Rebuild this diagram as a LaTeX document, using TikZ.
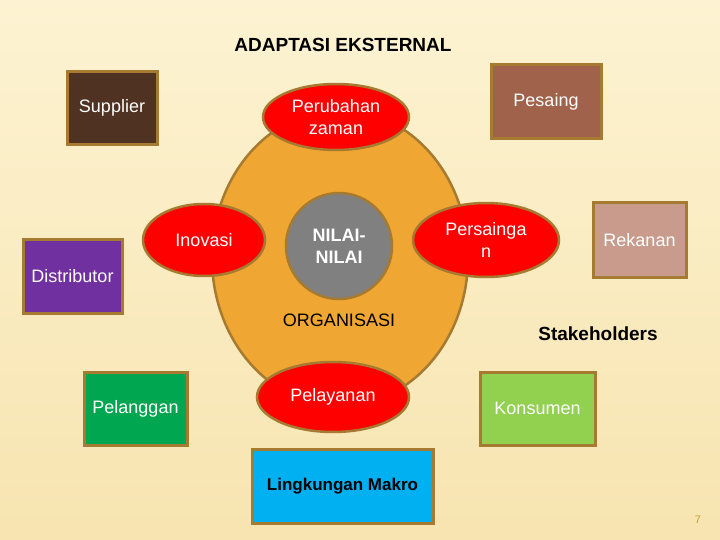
\documentclass[tikz,border=0pt]{standalone}
\usepackage{fontspec}
\setmainfont{Liberation Sans}
\usetikzlibrary{shapes.geometric}
\definecolor{bgtop}{RGB}{253,243,210}
\definecolor{bgbot}{RGB}{247,228,176}
\definecolor{bordc}{RGB}{166,122,48}
\definecolor{orgfill}{RGB}{240,166,50}
\definecolor{supc}{RGB}{79,50,34}
\definecolor{pesc}{RGB}{160,98,75}
\definecolor{disc}{RGB}{112,48,160}
\definecolor{rekc}{RGB}{200,155,140}
\definecolor{pelc}{RGB}{0,166,80}
\definecolor{konc}{RGB}{146,208,80}
\definecolor{linc}{RGB}{0,176,240}
\definecolor{grayc}{RGB}{128,128,128}
\definecolor{pagec}{RGB}{200,160,60}
\tikzset{
  boxnode/.style={draw=bordc, line width=3pt, rectangle, inner sep=0pt, text=white, font=\fontsize{18}{20}\selectfont},
  redell/.style={draw=bordc, line width=2.5pt, ellipse, fill=red, inner sep=0pt, text=white, align=center, font=\fontsize{18}{22}\selectfont},
  plain/.style={inner sep=0pt, font=\fontsize{18}{20}\selectfont},
}
\begin{document}
\begin{tikzpicture}[x=1pt,y=-1pt]
\useasboundingbox (0,0) rectangle (720,540);
\shade[top color=bgtop, bottom color=bgbot] (0,0) rectangle (720,540);
% organisation
\node[draw=bordc, line width=2.5pt, ellipse, fill=orgfill, minimum width=256pt, minimum height=296pt, inner sep=0pt] (org) at (340,258) {};
\node[draw=bordc, line width=2.5pt, circle, fill=grayc, minimum size=106pt, inner sep=0pt, text=white, align=center, font=\bfseries\fontsize{18}{22}\selectfont] (nilai) at (339,246) {NILAI-\\NILAI};
\node[plain] (orgt) at (339,320) {ORGANISASI};
% red ellipses
\node[redell, minimum width=146pt, minimum height=66pt] (perub) at (336,117) {Perubahan\\zaman};
\node[redell, minimum width=122pt, minimum height=72pt] (inov) at (204,240) {Inovasi};
\node[redell, minimum width=146pt, minimum height=74pt] (pers) at (486,240) {Persainga\\n};
\node[redell, minimum width=152pt, minimum height=70pt] (pelay) at (333,397) {Pelayanan};
% boxes
\node[boxnode, fill=supc, minimum width=90pt, minimum height=73pt] (sup) at (112,108) {Supplier};
\node[boxnode, fill=pesc, minimum width=110pt, minimum height=74pt] (pes) at (546,102) {Pesaing};
\node[boxnode, fill=disc, minimum width=99pt, minimum height=74pt] (dis) at (72.5,276) {Distributor};
\node[boxnode, fill=rekc, minimum width=93pt, minimum height=74pt] (rek) at (639.5,240) {Rekanan};
\node[boxnode, fill=pelc, minimum width=103pt, minimum height=73pt] (pel) at (135.5,408.5) {Pelanggan};
\node[boxnode, fill=konc, minimum width=115pt, minimum height=73pt] (kon) at (537.5,408.5) {Konsumen};
\node[boxnode, fill=linc, text=black, font=\bfseries\fontsize{17}{20}\selectfont, minimum width=181pt, minimum height=74pt] (lin) at (342.5,486) {Lingkungan Makro};
% labels
\node[plain, font=\bfseries\fontsize{19}{22}\selectfont] (title) at (343,45) {ADAPTASI EKSTERNAL};
\node[plain, font=\bfseries\fontsize{19}{22}\selectfont] (stake) at (598,334) {Stakeholders};
\node[plain, text=pagec, font=\fontsize{11}{12}\selectfont] (page) at (698,520) {7};
\end{tikzpicture}
\end{document}
